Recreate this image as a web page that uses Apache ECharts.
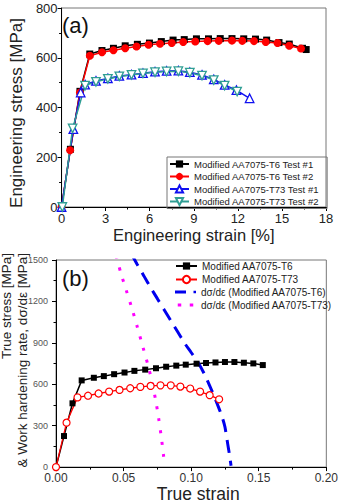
<!DOCTYPE html>
<html>
<head>
<meta charset="utf-8">
<script src="https://cdn.jsdelivr.net/npm/echarts@6/dist/echarts.min.js"></script>
<style>
  html, body { margin: 0; padding: 0; background: #fff; }
  #chart { width: 341px; height: 504px; }
</style>
</head>
<body>
<div id="chart"></div>
<script>
// (a) engineering stress-strain, strain in %
const t6aStrain1 = [0, 0.6, 1.25, 1.92, 2.75, 3.53, 4.33, 5.16, 5.98, 6.79, 7.59, 8.35, 9.18, 10.0, 10.8, 11.6, 12.4, 13.2, 13.96, 14.8, 15.5, 16.4, 16.65];
const t6aStress1 = [0, 232, 465, 615, 629, 638, 648, 654, 659, 665, 671, 673, 676, 676, 677, 677, 676, 675, 671, 661, 655, 638, 633];
const t6aStrain2 = [0, 0.58, 1.25, 1.92, 2.75, 3.53, 4.33, 5.1, 5.92, 6.7, 7.5, 8.28, 9.1, 9.94, 10.7, 11.6, 12.3, 13.1, 13.9, 14.7, 15.5, 16.3];
const t6aStress2 = [0, 228, 460, 608, 622, 630, 638, 645, 652, 656, 659, 663, 665, 667, 668, 669, 668, 667, 663, 659, 648, 637];
const t73aStrain1 = [0, 0.8, 1.3, 1.6, 2.34, 3.15, 3.93, 4.76, 5.54, 6.36, 7.15, 7.95, 8.73, 9.56, 10.36, 11.1, 11.9, 12.8];
const t73aStress1 = [0, 313, 460, 492, 507, 517, 527, 532, 538, 544, 547, 548, 542, 531, 513, 491, 470, 437];
const t73aStrain2 = [0.05, 0.75, 1.6, 2.34, 3.15, 3.93, 4.76, 5.54, 6.36, 7.15, 7.95, 8.73, 9.56, 10.36, 11.1, 11.95];
const t73aStress2 = [0, 316, 488, 503, 515, 525, 531, 537, 542, 545, 546, 540, 528, 510, 488, 464];

// (b) true stress-strain and work hardening rate
const t6bStrain = [0, 0.0059, 0.0122, 0.019, 0.028, 0.0354, 0.043, 0.0507, 0.058, 0.066, 0.074, 0.0815, 0.089, 0.096, 0.104, 0.111, 0.118, 0.125, 0.132, 0.139, 0.146, 0.153];
const t6bStress = [0, 225, 462, 628, 647, 659, 673, 685, 697, 706, 716, 727, 735, 742, 749, 754, 758, 761, 761, 756, 751, 739];
const t73bStrain = [0, 0.0078, 0.0159, 0.0237, 0.0315, 0.0393, 0.047, 0.0549, 0.0624, 0.07, 0.0773, 0.0849, 0.092, 0.0993, 0.1066, 0.1137, 0.1207];
const t73bStress = [0, 322, 505, 517, 533, 547, 559, 571, 581, 588, 592, 592, 583, 569, 547, 521, 491];
const t6RateStrain = [0.056, 0.06, 0.065, 0.07, 0.075, 0.08, 0.085, 0.09, 0.095, 0.1, 0.105, 0.11, 0.115, 0.12, 0.123, 0.125, 0.127, 0.1285, 0.1295];
const t6Rate = [1540, 1470, 1385, 1300, 1220, 1140, 1060, 980, 900, 830, 760, 670, 560, 440, 360, 290, 170, 80, 10];
const t73RateStrain = [0.0445, 0.048, 0.052, 0.056, 0.06, 0.064, 0.068, 0.071, 0.074, 0.076, 0.078, 0.0795, 0.0801];
const t73Rate = [1530, 1405, 1280, 1155, 1020, 880, 740, 620, 470, 350, 210, 90, 40];

const xTicksA = [0, 18, 3];
const yTicksA = [0, 800, 200];
const xTicksB = [0, 0.2, 0.05];
const yTicksB = [0, 1500, 300];

const namesA = ['Modified AA7075-T6 Test #1', 'Modified AA7075-T6 Test #2', 'Modified AA7075-T73 Test #1', 'Modified AA7075-T73 Test #2'];
const namesB = ['Modified AA7075-T6', 'Modified AA7075-T73', 'dσ/dε (Modified AA7075-T6)', 'dσ/dε (Modified AA7075-T73)'];

const FONT = '"Liberation Sans", Arial, sans-serif';
const pairs = (xs, ys) => xs.map((x, i) => [x, ys[i]]);

const chart = echarts.init(document.getElementById('chart'), null, { renderer: 'svg' });

const axisCommon = (ticks, labelSize, labelColor, margin, fmt) => ({
  type: 'value',
  min: ticks[0],
  max: ticks[1],
  interval: ticks[2],
  axisLine: { show: true, onZero: false, lineStyle: { color: '#000', width: 1 } },
  axisTick: { show: true, inside: false, length: 4, lineStyle: { color: '#000' } },
  minorTick: { show: true, splitNumber: 2, length: 2.5, lineStyle: { color: '#000' } },
  splitLine: { show: false },
  axisLabel: { fontSize: labelSize, color: labelColor, margin: margin, fontFamily: FONT, formatter: fmt || (v => String(v)) }
});

const option = {
  animation: false,
  backgroundColor: '#fff',
  grid: [
    { left: 57, right: 15, top: 8, height: 199, show: true, borderColor: '#777', borderWidth: 1 },
    { left: 56, right: 12, top: 260, height: 211, show: true, borderColor: '#777', borderWidth: 1 }
  ],
  xAxis: [
    Object.assign(axisCommon(xTicksA, 13, '#222', 5), {
      gridIndex: 0,
      name: 'Engineering strain [%]', nameLocation: 'middle', nameGap: 19,
      nameTextStyle: { fontFamily: FONT, color: '#222', fontSize: 16.5 }
    }),
    Object.assign(axisCommon(xTicksB, 12, '#333', 5, v => v.toFixed(2)), {
      gridIndex: 1,
      name: 'True strain', nameLocation: 'middle', nameGap: 17,
      nameTextStyle: { fontFamily: FONT, color: '#222', fontSize: 17.5, padding: [0, 0, 0, 14] }
    })
  ],
  yAxis: [
    Object.assign(axisCommon(yTicksA, 13, '#222', 4), {
      gridIndex: 0,
      name: 'Engineering stress [MPa]', nameLocation: 'middle', nameRotate: 90, nameGap: 31,
      nameTextStyle: { fontFamily: FONT, color: '#222', fontSize: 17, padding: [0, 11, 0, 0] }
    }),
    Object.assign(axisCommon(yTicksB, 9, '#555', 8), { gridIndex: 1 })
  ],
  legend: [
    {
      data: namesA,
      left: 167, top: 157,
      orient: 'vertical',
      borderColor: '#777', borderWidth: 1, borderRadius: 0,
      padding: [2, 8, 2, 2],
      itemGap: 2.5, itemWidth: 19, itemHeight: 9,
      textStyle: { fontSize: 9.5, color: '#222', fontFamily: FONT }
    },
    {
      data: namesB.slice(0, 2),
      left: 175, top: 261,
      orient: 'vertical',
      padding: 0,
      itemGap: 3.5, itemWidth: 21, itemHeight: 9,
      textStyle: { fontSize: 10, color: '#222', fontFamily: FONT }
    },
    {
      // dashed entries, drawn as short dash icons
      data: [
        { name: namesB[2], icon: 'path://M0,0h11v3h-11zM18.5,0.3h2.5v2.4h-2.5z' },
        { name: namesB[3], icon: 'path://M0,0h3.5v3h-3.5zM12,0h3.5v3h-3.5z' }
      ],
      left: 175, top: 287,
      orient: 'vertical',
      padding: 0,
      itemGap: 3, itemWidth: 21, itemHeight: 3,
      textStyle: { fontSize: 10, color: '#222', fontFamily: FONT }
    }
  ],
  graphic: [
    { type: 'text', left: 62, top: 14, style: { text: '(a)', font: '22px ' + FONT, fill: '#111' } },
    { type: 'text', left: 62, top: 267, style: { text: '(b)', font: '22px ' + FONT, fill: '#111' } },
    {
      type: 'text', x: 14, y: 253, rotation: Math.PI / 2,
      style: {
        text: 'True stress [MPa]\n& Work hardening rate, dσ/dε [MPa]',
        font: '13.5px ' + FONT, fill: '#222', align: 'right', verticalAlign: 'middle', lineHeight: 16
      }
    }
  ],
  series: [
    {
      name: namesA[0], type: 'line', xAxisIndex: 0, yAxisIndex: 0,
      data: pairs(t6aStrain1, t6aStress1),
      symbol: 'rect', symbolSize: 7,
      itemStyle: { color: '#000' }, lineStyle: { color: '#000', width: 1.5 }
    },
    {
      name: namesA[1], type: 'line', xAxisIndex: 0, yAxisIndex: 0,
      data: pairs(t6aStrain2, t6aStress2),
      symbol: 'circle', symbolSize: 8,
      itemStyle: { color: '#f00' }, lineStyle: { color: '#f00', width: 1.5 }
    },
    {
      name: namesA[2], type: 'line', xAxisIndex: 0, yAxisIndex: 0,
      data: pairs(t73aStrain1, t73aStress1),
      symbol: 'triangle', symbolSize: 8.5,
      itemStyle: { color: '#fff', borderColor: '#1010f0', borderWidth: 1.3 },
      lineStyle: { color: '#1010f0', width: 1.5 }
    },
    {
      name: namesA[3], type: 'line', xAxisIndex: 0, yAxisIndex: 0,
      data: pairs(t73aStrain2, t73aStress2),
      symbol: 'triangle', symbolRotate: 180, symbolSize: 8.5,
      itemStyle: { color: '#fff', borderColor: '#2f9e94', borderWidth: 1.3 },
      lineStyle: { color: '#2f9e94', width: 1.5 }
    },
    {
      name: namesB[0], type: 'line', xAxisIndex: 1, yAxisIndex: 1,
      data: pairs(t6bStrain, t6bStress),
      symbol: 'rect', symbolSize: 6,
      itemStyle: { color: '#000' }, lineStyle: { color: '#000', width: 1.5 }
    },
    {
      name: namesB[1], type: 'line', xAxisIndex: 1, yAxisIndex: 1,
      data: pairs(t73bStrain, t73bStress),
      symbol: 'circle', symbolSize: 7,
      itemStyle: { color: '#fff', borderColor: '#f00', borderWidth: 1.2 },
      lineStyle: { color: '#f00', width: 1.3 }
    },
    {
      name: namesB[2], type: 'line', xAxisIndex: 1, yAxisIndex: 1,
      data: pairs(t6RateStrain, t6Rate),
      symbol: 'none', smooth: 0.3,
      itemStyle: { color: '#0000ee' },
      lineStyle: { color: '#0000ee', width: 3, type: [13, 8] }
    },
    {
      name: namesB[3], type: 'line', xAxisIndex: 1, yAxisIndex: 1,
      data: pairs(t73RateStrain, t73Rate),
      symbol: 'none', smooth: 0.3,
      itemStyle: { color: '#ff00ff' },
      lineStyle: { color: '#ff00ff', width: 3, type: [3, 9] }
    }
  ]
};

chart.setOption(option);
</script>
</body>
</html>
